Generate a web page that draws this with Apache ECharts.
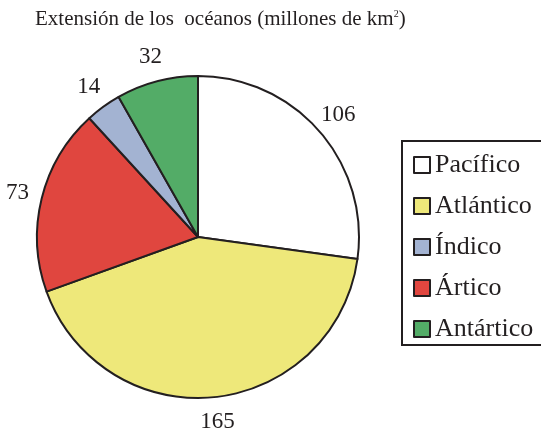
<!DOCTYPE html>
<html><head><meta charset="utf-8">
<script src="https://cdn.jsdelivr.net/npm/echarts@6/dist/echarts.min.js"></script>
<style>html,body{margin:0;padding:0;background:#fff}#c{width:541px;height:435px}</style>
</head><body><div id="c"></div>
<script>
const categories = ['Pacífico', 'Atlántico', 'Ártico', 'Índico', 'Antártico'];
const values = [106, 165, 73, 14, 32];
const colors = ['#ffffff', '#EEE87A', '#E0463F', '#A3B3D2', '#53AC67'];
const legendOrder = ['Pacífico', 'Atlántico', 'Índico', 'Ártico', 'Antártico'];

const font = '"Liberation Serif", "Times New Roman", serif';
const data = categories.map((c, i) => ({ name: c, value: values[i], itemStyle: { color: colors[i] } }));

const chart = echarts.init(document.getElementById('c'), null, { renderer: 'canvas' });
chart.setOption({
  animation: false,
  backgroundColor: '#fff',
  title: {
    text: 'Extensión de los  océanos (millones de km{sup|2})',
    left: 30, top: 4,
    textStyle: {
      fontFamily: font, fontSize: 21, fontWeight: 'normal', color: '#231F20',
      rich: { sup: { fontFamily: font, fontSize: 10, verticalAlign: 'top', padding: [0, 0, 10, 0], color: '#231F20' } }
    }
  },
  legend: {
    orient: 'vertical',
    left: 402, top: 141,
    data: legendOrder,
    icon: 'rect',
    itemWidth: 16, itemHeight: 16,
    itemGap: 15,
    padding: [11, 30, 3, 11],
    borderColor: '#231F20', borderWidth: 2,
    textStyle: { fontFamily: font, fontSize: 26, color: '#231F20' },
    itemStyle: { borderColor: '#231F20', borderWidth: 2 }
  },
  series: [
    {
      type: 'pie',
      center: [198, 237],
      radius: 161,
      startAngle: 90,
      clockwise: true,
      silent: true,
      data: data,
      itemStyle: { borderColor: '#231F20', borderWidth: 2 },
      label: { show: false },
      labelLine: { show: false }
    },
    {
      type: 'pie',
      center: [198, 237],
      radius: [170, 196],
      startAngle: 90,
      clockwise: true,
      silent: true,
      legendHoverLink: false,
      data: categories.map((c, i) => ({ name: c + ' ', value: values[i] })),
      itemStyle: { color: 'rgba(0,0,0,0)', borderWidth: 0 },
      label: {
        show: true, position: 'inside', formatter: '{c}',
        fontFamily: font, fontSize: 23, color: '#231F20'
      },
      labelLine: { show: false }
    }
  ]
});
</script></body></html>
